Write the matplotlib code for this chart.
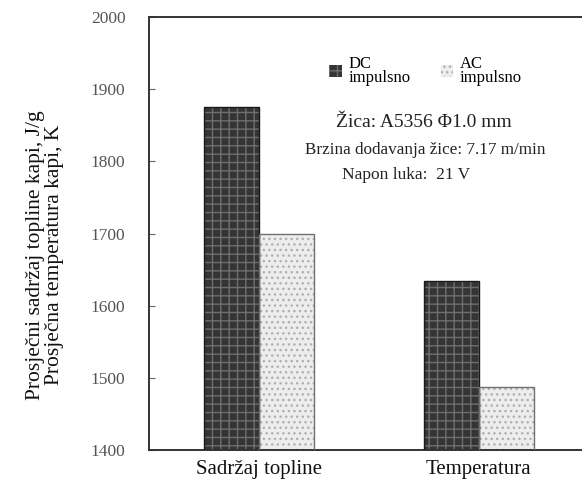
import matplotlib
matplotlib.use("Agg")
import matplotlib.pyplot as plt
import numpy as np

categories = ["Sadržaj topline", "Temperatura"]
series_names = ["DC\nimpulsno", "AC\nimpulsno"]
dc_values = [1875, 1634]
ac_values = [1700, 1487]
yticks = [1400, 1500, 1600, 1700, 1800, 1900, 2000]

plt.rcParams['font.family'] = ['Liberation Serif', 'DejaVu Serif']

fig = plt.figure(figsize=(5.82, 4.88), dpi=100)
ax = fig.add_axes([149/582, 1 - 450/488, 1 - 149/582, (450 - 17)/488])

x = np.arange(len(categories))
w = 0.25

b1 = ax.bar(x - w/2, dc_values, w, color='#353535', edgecolor='#6e6e6e',
            hatch='++', linewidth=0, zorder=2)
ax.bar(x - w/2, dc_values, w, fill=False, edgecolor='#1a1a1a', linewidth=1.0, zorder=3)
b2 = ax.bar(x + w/2, ac_values, w, color='#ededed', edgecolor='#b0b0b0',
            hatch='...', linewidth=0, zorder=2)
ax.bar(x + w/2, ac_values, w, fill=False, edgecolor='#707070', linewidth=1.0, zorder=3)

ax.set_ylim(1400, 2000)
ax.set_xlim(-0.5, 1.47)
ax.set_yticks(yticks)
ax.set_yticklabels([str(t) for t in yticks], color='#555555', fontsize=12.5)
ax.set_xticks(x)
ax.set_xticklabels(categories, fontsize=15, color='#111111')
ax.tick_params(axis='x', length=0, pad=7)
ax.tick_params(axis='y', direction='in', length=4, pad=17, color='#666666')

for s in ['left', 'top', 'bottom']:
    ax.spines[s].set_linewidth(1.4)
    ax.spines[s].set_color('#333333')
ax.spines['right'].set_visible(False)

ax.set_ylabel("Prosječni sadržaj topline kapi, J/g\nProsječna temperatura kapi, K",
              fontsize=15.5, color='#111111', linespacing=1.0)
ax.yaxis.set_label_coords(-0.196, 0.45)

leg = ax.legend([b1, b2], series_names, ncol=2, frameon=False,
                loc='upper left', bbox_to_anchor=(0.382, 0.945),
                fontsize=12, handlelength=0.75, handleheight=0.75,
                handletextpad=0.4, columnspacing=1.8, labelspacing=0.2)
for t in leg.get_texts():
    t.set_linespacing(0.85)

ax.text(0.635, 0.757, "Žica: A5356 Φ1.0 mm", transform=ax.transAxes,
        ha='center', va='center', fontsize=14, color='#222222')
ax.text(0.637, 0.693, "Brzina dodavanja žice: 7.17 m/min", transform=ax.transAxes,
        ha='center', va='center', fontsize=12.3, color='#222222')
ax.text(0.594, 0.635, "Napon luka:  21 V", transform=ax.transAxes,
        ha='center', va='center', fontsize=12.5, color='#222222')

fig.savefig("out.png", dpi=100)
